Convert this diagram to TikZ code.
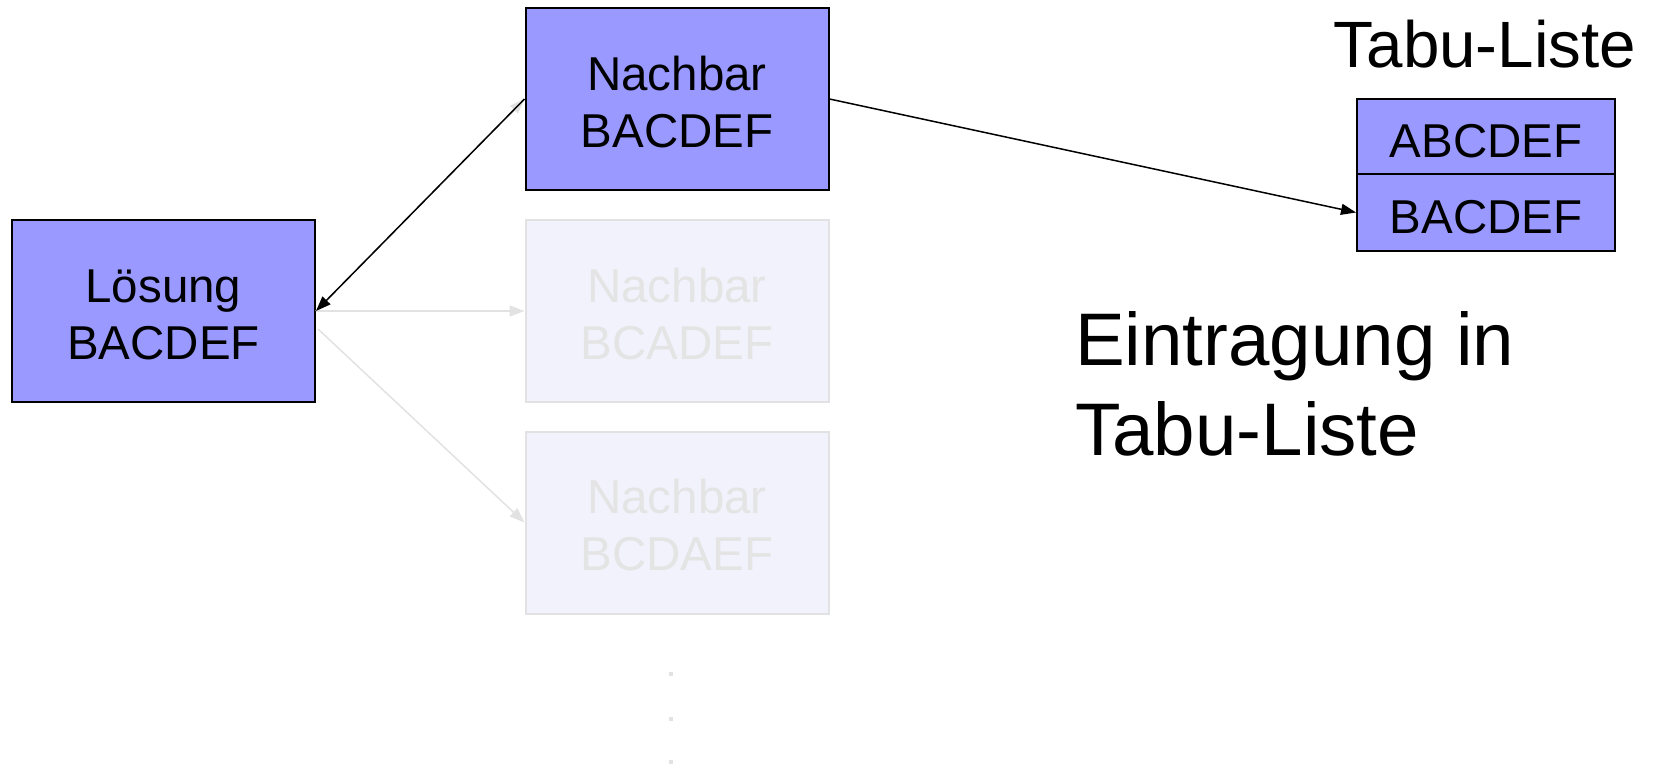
\documentclass[tikz,border=0pt]{standalone}
\usepackage{fontspec}
\setmainfont{Liberation Sans}
\usetikzlibrary{arrows.meta,calc}

\definecolor{boxblue}{RGB}{153,153,255}
\definecolor{fadefill}{RGB}{242,242,252}
\definecolor{fadeline}{RGB}{226,226,226}
\definecolor{fadetext}{RGB}{228,228,228}

\tikzset{
  solbox/.style={draw=black, line width=2pt, fill=boxblue, minimum width=303pt,
    minimum height=182pt, inner sep=0pt, align=center, text height=96pt, text depth=0pt,
    font=\fontsize{47.5}{57}\selectfont},
  fadebox/.style={solbox, draw=fadeline, fill=fadefill, text=fadetext},
  tabucell/.style={draw=black, line width=2pt, fill=boxblue, minimum width=258pt,
    inner sep=0pt, text height=41pt, text depth=0pt, font=\fontsize{47.5}{57}\selectfont},
  conn/.style={line width=1.5pt, -{Triangle[length=15pt,width=11pt]}},
  fadeconn/.style={conn, draw=fadeline, fill=fadeline},
}

\begin{document}
\begin{tikzpicture}[x=1pt,y=-1pt]
\useasboundingbox (0,0) rectangle (1653,764);

% neighbours of the current solution
\node[solbox]  (n1) at (677,99)    {Nachbar\\BACDEF};
\node[fadebox] (n2) at (677,311)   {Nachbar\\BCADEF};
\node[fadebox] (n3) at (677,522.5) {Nachbar\\BCDAEF};

% current solution
\node[solbox] (sol) at (163.5,311) {Lösung\\BACDEF};

% generated moves (faded)
\draw[fadeconn] (sol.east) -- (n1.west);
\draw[fadeconn] (sol.east) -- (n2.west);
\draw[fadeconn] ($(sol.east)+(2,18)$) -- (n3.west);

% more neighbours follow
\foreach \yy in {674,719,762}
  \fill[fadeline] (669,\yy-2) rectangle (673,\yy+2);

% tabu list
\node[anchor=base, font=\fontsize{65.5}{78}\selectfont] (tt) at (1485,67) {Tabu-Liste};
\node[tabucell, minimum height=75pt] (t1) at (1486,136.5) {ABCDEF};
\node[tabucell, minimum height=77pt] (t2) at (1486,212.5) {BACDEF};

% chosen neighbour becomes the solution and enters the tabu list
\draw[conn] (n1.west) -- (sol.east);
\draw[conn] (n1.east) -- (t2.west);

\node[anchor=base west, align=left, inner sep=0pt,
      font=\fontsize{74.5}{89.5}\selectfont] (note) at (1075,455) {Eintragung in\\Tabu-Liste};
\end{tikzpicture}
\end{document}
